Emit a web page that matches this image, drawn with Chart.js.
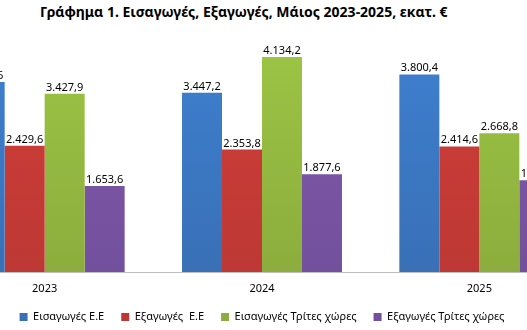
<!DOCTYPE html>
<html>
<head>
<meta charset="utf-8">
<script src="https://cdn.jsdelivr.net/npm/chart.js@4/dist/chart.umd.min.js"></script>
<style>
  html, body { margin: 0; padding: 0; background: #fff; overflow: hidden; }
  body { width: 527px; height: 330px; position: relative; }
  #title {
    position: absolute; left: 40px; top: 2px;
    font: bold 14px "Noto Sans", sans-serif; color: #000; white-space: nowrap;
  }
  #wrap { position: absolute; left: -64px; top: 0; width: 652px; height: 330px; }
</style>
</head>
<body>
<div id="title">Γράφημα 1. Εισαγωγές, Εξαγωγές, Μάιος 2023-2025, εκατ. €</div>
<div id="wrap"><canvas id="chart" width="652" height="330"></canvas></div>
<script>
// categories and series (εκατ. €)
const years = ["2023", "2024", "2025"];
const importsEU = [3653.6, 3447.2, 3800.4];
const exportsEU = [2429.6, 2353.8, 2414.6];
const importsThird = [3427.9, 4134.2, 2668.8];
const exportsThird = [1653.6, 1877.6, 1763.4];

const seriesNames = ["Εισαγωγές Ε.Ε", "Εξαγωγές  Ε.Ε", "Εισαγωγές Τρίτες χώρες", "Εξαγωγές Τρίτες χώρες"];
// top / bottom shades, bars darken slightly towards the axis
const topColors = ["#3e80d0", "#d23e39", "#9cc544", "#8059ac"];
const bottomColors = ["#3970b6", "#bd3834", "#8cad3d", "#73509d"];

// greek number format: 3.447,2
const fmt = v => v.toLocaleString("de-DE", { minimumFractionDigits: 1, maximumFractionDigits: 1 });

const shade = i => ctx => {
  const area = ctx.chart.chartArea;
  if (!area) return bottomColors[i];
  const g = ctx.chart.ctx.createLinearGradient(0, area.top, 0, area.bottom);
  g.addColorStop(0, topColors[i]);
  g.addColorStop(1, bottomColors[i]);
  return g;
};

// value labels above each bar
const valueLabels = {
  id: "valueLabels",
  afterDatasetsDraw(chart) {
    const ctx = chart.ctx;
    ctx.save();
    ctx.font = '11px "Noto Sans", sans-serif';
    ctx.fillStyle = "#000";
    ctx.textAlign = "center";
    ctx.textBaseline = "alphabetic";
    chart.data.datasets.forEach((ds, i) => {
      chart.getDatasetMeta(i).data.forEach((bar, j) => {
        ctx.fillText(fmt(ds.data[j]), bar.x, bar.y - 3);
      });
    });
    ctx.restore();
  }
};

const allSeries = [importsEU, exportsEU, importsThird, exportsThird];

new Chart(document.getElementById("chart"), {
  type: "bar",
  data: {
    labels: years,
    datasets: allSeries.map((data, i) => ({
      label: seriesNames[i],
      data: data,
      backgroundColor: shade(i),
      borderWidth: 0,
      categoryPercentage: 0.736,
      barPercentage: 1
    }))
  },
  options: {
    responsive: false,
    animation: false,
    layout: { padding: { top: 38, left: 0, right: 0, bottom: 0 } },
    scales: {
      x: {
        grid: { display: false, drawTicks: false },
        border: { color: "#bfbfbf", width: 1 },
        ticks: { color: "#000", font: { family: "Noto Sans", size: 11 }, padding: 10 },
        afterFit: scale => { scale.height = 22.5; }
      },
      y: { display: false, min: 0, max: 4500 }
    },
    plugins: {
      legend: {
        position: "bottom",
        maxHeight: 35.5,
        labels: {
          boxWidth: 8,
          boxHeight: 8,
          padding: 17,
          color: "#000",
          font: { family: "Noto Sans", size: 11 }
        }
      },
      tooltip: { enabled: false }
    }
  },
  plugins: [valueLabels]
});
</script>
</body>
</html>
